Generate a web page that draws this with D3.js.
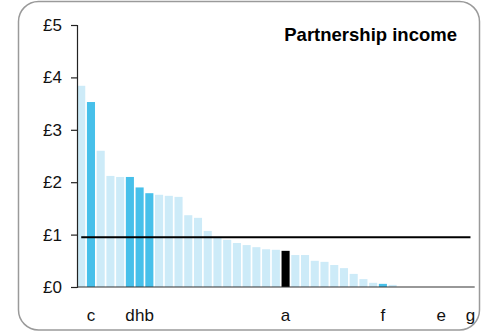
<!DOCTYPE html>
<html>
<head>
<meta charset="utf-8">
<script src="https://cdn.jsdelivr.net/npm/d3@7"></script>
<style>
  html, body { margin: 0; padding: 0; background: #fff; }
  svg { display: block; font-family: "Liberation Sans", Arial, Helvetica, sans-serif; }
</style>
</head>
<body>
<svg id="chart" width="482" height="332"></svg>
<script>
// ---- data ----
const categories = d3.range(41).map(i => "b" + i);
const values = [3.84, 3.53, 2.60, 2.12, 2.10, 2.10, 1.90, 1.79, 1.76, 1.74, 1.72, 1.37, 1.32, 1.07,
  0.94, 0.90, 0.84, 0.80, 0.76, 0.72, 0.71, 0.69, 0.61, 0.61, 0.50, 0.48, 0.42, 0.36, 0.25, 0.15,
  0.08, 0.06, 0.04, 0, 0, 0, 0, 0, 0, 0, 0];
const labels = ["", "c", "", "", "", "d", "h", "b", "", "", "", "", "", "", "", "", "", "", "", "", "",
  "a", "", "", "", "", "", "", "", "", "", "f", "", "", "", "", "", "e", "", "", "g"];
// highlight: 0 = normal, 1 = highlighted, 2 = selected
const highlight = [0, 1, 0, 0, 0, 1, 1, 1, 0, 0, 0, 0, 0, 0, 0, 0, 0, 0, 0, 0, 0,
  2, 0, 0, 0, 0, 0, 0, 0, 0, 0, 1, 0, 0, 0, 0, 0, 0, 0, 0, 0];
const average = 0.95;
const yTicks = [0, 1, 2, 3, 4, 5];
const title = "Partnership income";

// ---- layout ----
const svg = d3.select("#chart");
const colors = ["#cdebf8", "#47c0ea", "#000000"];

svg.append("rect")
  .attr("x", 18.5).attr("y", 1.5)
  .attr("width", 461).attr("height", 328.5)
  .attr("rx", 20).attr("ry", 20)
  .attr("fill", "#fff").attr("stroke", "#9a9a9a").attr("stroke-width", 1.5);

const x = d3.scaleBand().domain(categories).range([77, 474.7]).paddingInner(0.17).paddingOuter(0.02);
const y = d3.scaleLinear().domain([0, 5]).range([287, 25]);

// bars
svg.append("g").selectAll("rect")
  .data(values)
  .join("rect")
  .attr("x", (d, i) => x(categories[i]))
  .attr("width", x.bandwidth())
  .attr("y", d => y(d))
  .attr("height", d => y(0) - y(d))
  .attr("fill", (d, i) => colors[highlight[i]]);

// y axis
const yAxis = svg.append("g")
  .attr("transform", "translate(77,0)")
  .call(d3.axisLeft(y).tickValues(yTicks).tickFormat(d => "£" + d).tickSize(6).tickPadding(9));
yAxis.select(".domain").attr("stroke", "#222").attr("stroke-width", 1.2);
yAxis.selectAll(".tick line").attr("stroke", "#222").attr("stroke-width", 1.2);
yAxis.selectAll(".tick text").attr("font-size", 17).attr("fill", "#111")
  .attr("font-family", "'Liberation Sans', Arial, sans-serif");

// baseline
svg.append("line")
  .attr("x1", 77).attr("x2", 474.7)
  .attr("y1", y(0)).attr("y2", y(0))
  .attr("stroke", "#333").attr("stroke-width", 1.2);

// x axis labels
const xAxis = svg.append("g")
  .attr("transform", `translate(0,${y(0)})`)
  .call(d3.axisBottom(x).tickFormat((d, i) => labels[i]).tickSize(0).tickPadding(22));
xAxis.select(".domain").remove();
xAxis.selectAll(".tick text").attr("font-size", 17).attr("fill", "#111")
  .attr("font-family", "'Liberation Sans', Arial, sans-serif");

// average line
svg.append("line")
  .attr("x1", x(categories[0]) + x.bandwidth() / 2)
  .attr("x2", x(categories[categories.length - 1]) + x.bandwidth() / 2)
  .attr("y1", y(average)).attr("y2", y(average))
  .attr("stroke", "#000").attr("stroke-width", 2);

// title
svg.append("text")
  .attr("x", 457).attr("y", 41)
  .attr("text-anchor", "end")
  .attr("font-size", 18.5).attr("font-weight", "bold").attr("fill", "#000")
  .text(title);
</script>
</body>
</html>
